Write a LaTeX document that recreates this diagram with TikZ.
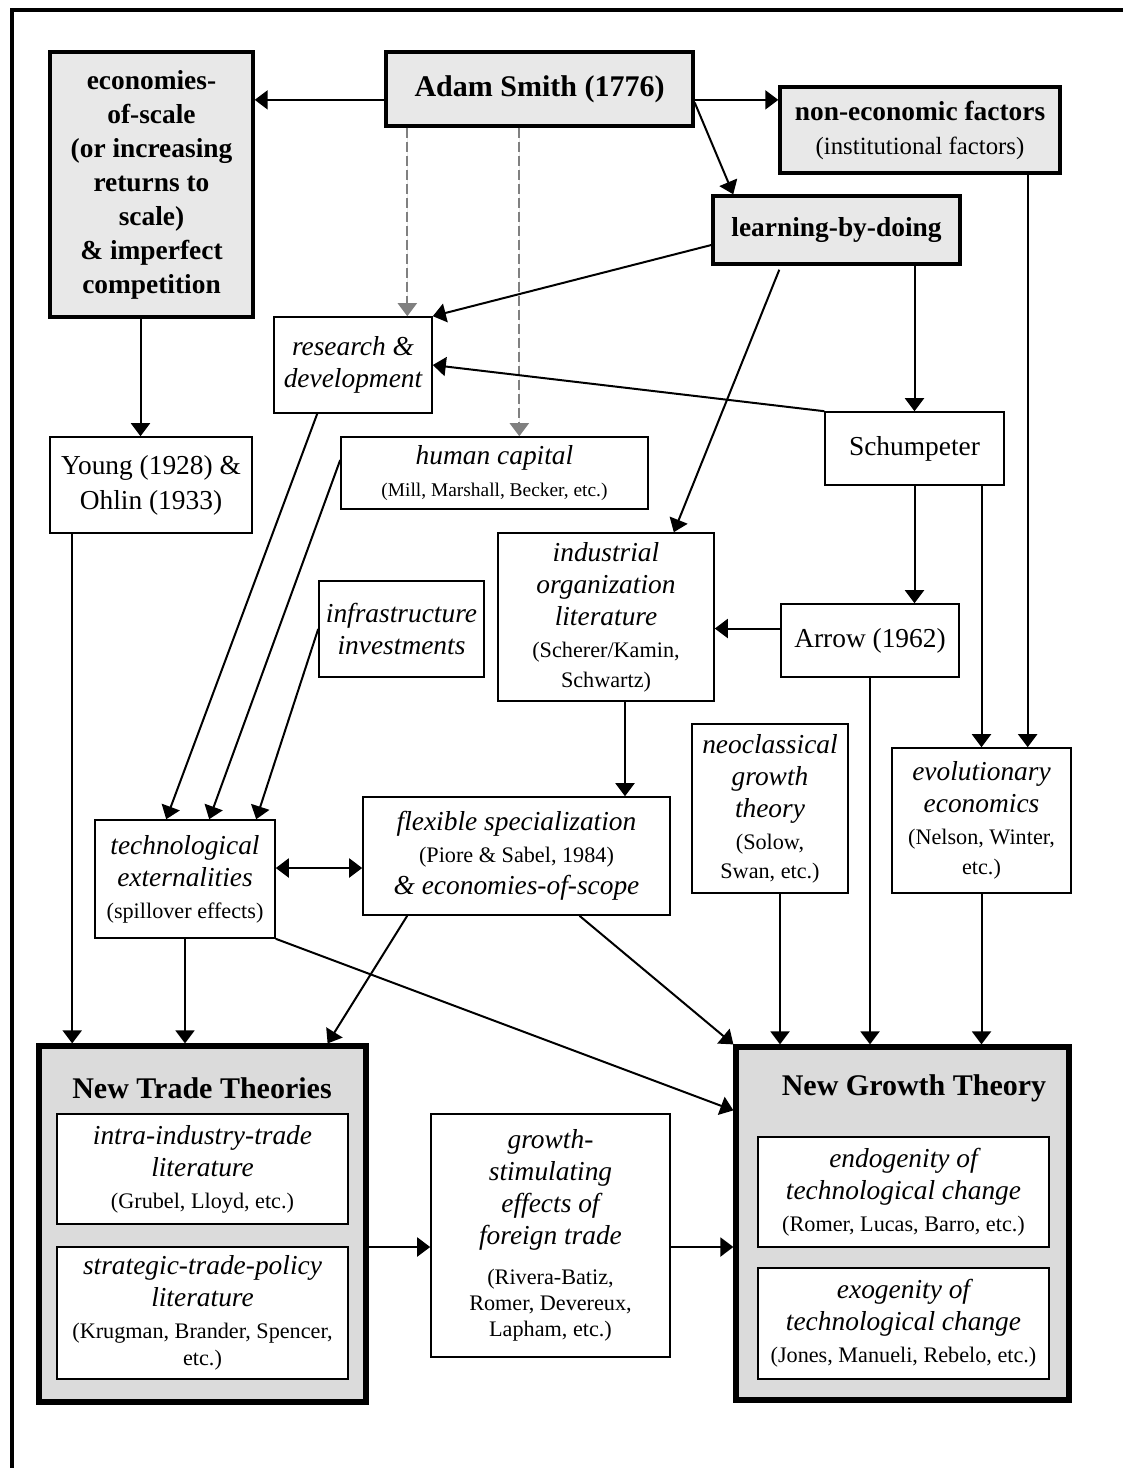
\documentclass[tikz,border=0pt]{standalone}
\usepackage{fontspec}
\setmainfont{Liberation Serif}
\usetikzlibrary{arrows.meta,calc}

\newcommand{\boxfont}{\fontsize{13.7}{16}\selectfont}
\newcommand{\keyfont}{\fontsize{13.7}{17}\selectfont\bfseries}
\newcommand{\reffont}{\fontsize{11.1}{13.5}\selectfont\upshape}
\newcommand{\headfont}{\fontsize{15}{18}\selectfont\bfseries}

\begin{document}
\begin{tikzpicture}[x=0.5pt,y=-0.5pt,
    >={Triangle[length=6.5pt,width=9.5pt]},
    litbox/.style={draw,line width=0.8pt,fill=white,align=center,inner sep=0pt,font=\boxfont\itshape},
    keybox/.style={litbox,line width=1.7pt,fill=black!9,font=\keyfont},
    theorybox/.style={draw,line width=2.6pt,fill=black!14,inner sep=0pt},
    conn/.style={->,line width=1pt},
    hint/.style={->,line width=1pt,draw=black!50,fill=black!50,dash pattern=on 5pt off 2pt}]
\useasboundingbox (0,0) rectangle (1123,1468);
\draw[line width=2pt] (12,1500) -- (12,10) -- (1150,10);

% top row
\node[keybox,minimum width=101.5pt,minimum height=132.5pt] (econ) at (151.5,184.5)
    {economies-\\of-scale\\(or increasing\\returns to\\scale)\\\& imperfect\\competition};
\node[keybox,font=\headfont,minimum width=153.5pt,minimum height=37pt] (adam) at (539.5,89) {Adam Smith (1776)};
\node[keybox,minimum width=140pt,minimum height=43pt] (noneco) at (920,130)
    {non-economic factors\\\mdseries\fontsize{12.4}{14}\selectfont (institutional factors)};
\node[keybox,minimum width=123.5pt,minimum height=34pt] (lbd) at (836.5,230) {learning-by-doing};

% middle
\node[litbox,minimum width=79pt,minimum height=48pt] (rnd) at (353,365) {research \&\\development};
\node[litbox,font=\boxfont,minimum width=101pt,minimum height=48pt] (young) at (151,485) {Young (1928) \&\\[1.5pt]Ohlin (1933)};
\node[litbox,minimum width=153.5pt,minimum height=36pt] (humcap) at (494.5,473)
    {human capital\\\fontsize{9.7}{12}\selectfont\upshape (Mill, Marshall, Becker, etc.)};
\node[litbox,font=\boxfont,minimum width=89.5pt,minimum height=36.5pt] (schump) at (914.5,448.5) {Schumpeter};
\node[litbox,minimum width=108pt,minimum height=84pt] (indorg) at (606,617)
    {industrial\\organization\\literature\\\reffont (Scherer/Kamin,\\[-1pt]\reffont Schwartz)};
\node[litbox,minimum width=82.5pt,minimum height=48pt] (infra) at (401.5,629) {infrastructure\\investments};
\node[litbox,font=\boxfont,minimum width=89pt,minimum height=36.5pt] (arrowbox) at (870,640.5) {Arrow (1962)};
\node[litbox,minimum width=78pt,minimum height=84.5pt] (neocl) at (770,808.5)
    {neoclassical\\growth\\theory\\\reffont (Solow,\\[-1.5pt]\reffont Swan, etc.)};
\node[litbox,minimum width=89.5pt,minimum height=72.5pt] (evol) at (981.5,820.5)
    {evolutionary\\economics\\\reffont (Nelson, Winter,\\[-1pt]\reffont etc.)};
\node[litbox,minimum width=90pt,minimum height=59pt] (techext) at (185,879)
    {technological\\externalities\\\reffont (spillover effects)};
\node[litbox,minimum width=153.5pt,minimum height=59pt] (flexspec) at (516.5,856)
    {flexible specialization\\\reffont (Piore \& Sabel, 1984)\\\& economies-of-scope};

% bottom row
\node[theorybox,minimum width=163.5pt,minimum height=178pt] (newtrade) at (202.5,1224) {};
\node[font=\headfont] (nttitle) at (202,1088) {New Trade Theories};
\node[litbox,minimum width=145.5pt,minimum height=55pt] (intra) at (202.5,1169)
    {intra-industry-trade\\literature\\\reffont (Grubel, Lloyd, etc.)};
\node[litbox,minimum width=145.5pt,minimum height=66pt] (strat) at (202.5,1313)
    {strategic-trade-policy\\literature\\\reffont (Krugman, Brander, Spencer,\\[-2.5pt]\reffont etc.)};
\node[litbox,minimum width=119.5pt,minimum height=121.5pt] (growstim) at (550.5,1235.5)
    {growth-\\stimulating\\effects of\\foreign trade\\[4pt]\reffont (Rivera-Batiz,\\[-3pt]\reffont Romer, Devereux,\\[-3pt]\reffont Lapham, etc.)};
\node[theorybox,minimum width=166.5pt,minimum height=176.5pt] (newgrowth) at (902.5,1223.5) {};
\node[font=\headfont] (ngtitle) at (914,1088) {New Growth Theory};
\node[litbox,minimum width=145.5pt,minimum height=55pt] (endo) at (903.5,1192)
    {endogenity of\\technological change\\\reffont (Romer, Lucas, Barro, etc.)};
\node[litbox,minimum width=145.5pt,minimum height=55.5pt] (exo) at (903.5,1323.5)
    {exogenity of\\technological change\\\reffont (Jones, Manueli, Rebelo, etc.)};

% links from Smith
\coordinate (h1) at ($(adam.south west)+(23,0)$);
\coordinate (h2) at ($(adam.south west)+(135,0)$);
\draw[hint] (h1) -- (h1 |- rnd.north);
\draw[hint] (h2) -- (h2 |- humcap.north);
\draw[conn] (adam.184) -- (adam.184 -| econ.east);
\draw[conn] (adam.-4) -- (adam.-4 -| noneco.west);
\draw[conn] (adam.-5) -- ($(lbd.north west)+(22,0)$);

% upper links
\draw[conn] ($(lbd.west)+(0,15)$) -- (rnd.north east);
\draw[conn] (schump.north west) -- (rnd.east);
\draw[conn] ($(lbd.south west)+(68,4)$) -- ($(indorg.north east)+(-41,0)$);
\draw[conn] (schump.north |- lbd.south) -- (schump.north);
\coordinate (n1) at ($(noneco.south east)+(-34,0)$);
\draw[conn] (n1) -- (n1 |- evol.north);
\coordinate (e1) at ($(econ.south)+(-11,0)$);
\draw[conn] (e1) -- (e1 |- young.north);

% middle links
\draw[conn] ($(rnd.south west)+(44,0)$) -- ($(techext.north west)+(72,0)$);
\draw[conn] ($(humcap.west)+(0,-13)$) -- ($(techext.north west)+(115,0)$);
\draw[conn] (infra.west) -- ($(techext.north west)+(162,0)$);
\coordinate (t1) at ($(techext.east)+(0,-11)$);
\draw[conn,<->] (t1) -- (t1 -| flexspec.west);
\draw[conn] (schump.south) -- (schump.south |- arrowbox.north);
\coordinate (a1) at ($(arrowbox.west)+(0,-12)$);
\draw[conn] (a1) -- (a1 -| indorg.east);
\draw[conn] (evol.north |- schump.south) -- (evol.north);
\coordinate (i1) at ($(indorg.south)+(19,0)$);
\draw[conn] (i1) -- (i1 |- flexspec.north);

% links into the theories
\coordinate (y1) at ($(young.south west)+(23,0)$);
\draw[conn] (y1) -- (y1 |- newtrade.north);
\draw[conn] (techext.south) -- (techext.south |- newtrade.north);
\draw[conn] ($(flexspec.south west)+(45,0)$) -- ($(newtrade.north east)+(-41,0)$);
\draw[conn] ($(flexspec.south)+(63,0)$) -- (newgrowth.north west);
\draw[conn] (techext.south east) -- ($(newgrowth.north west)+(0,66)$);
\draw[conn] (arrowbox.south) -- (arrowbox.south |- newgrowth.north);
\coordinate (c1) at ($(neocl.south)+(10,0)$);
\draw[conn] (c1) -- (c1 |- newgrowth.north);
\draw[conn] (evol.south) -- (evol.south |- newgrowth.north);
\coordinate (g1) at ($(newtrade.east)+(0,23)$);
\draw[conn] (g1) -- (g1 -| growstim.west);
\draw[conn] (g1 -| growstim.east) -- (g1 -| newgrowth.west);
\end{tikzpicture}
\end{document}
